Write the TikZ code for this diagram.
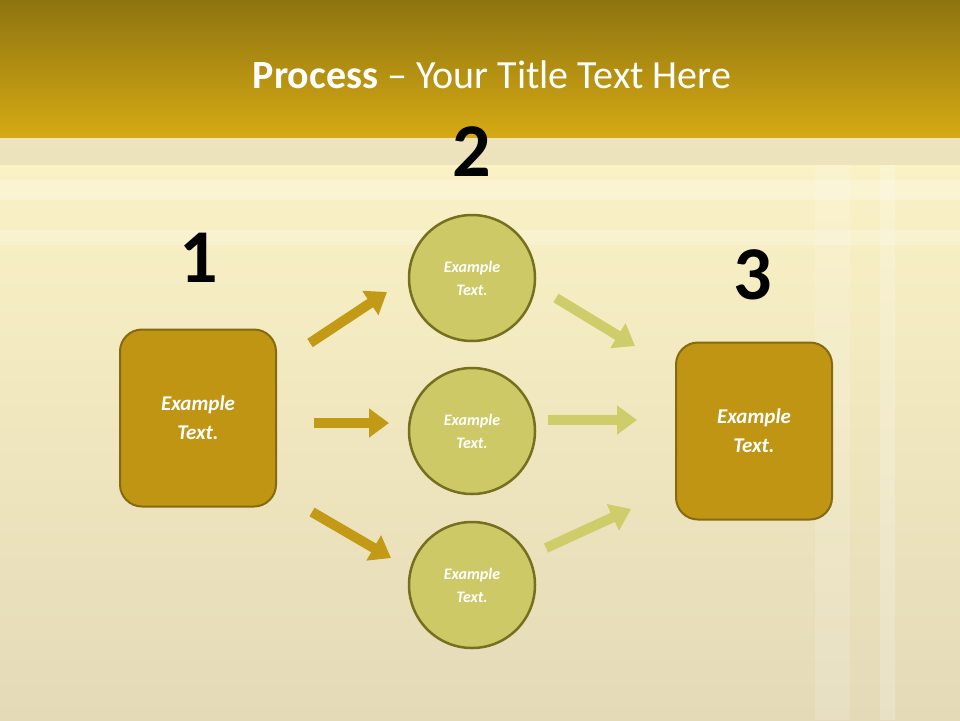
\documentclass[tikz,border=0pt]{standalone}
\usepackage{fontspec}
\setmainfont{Carlito}
\usetikzlibrary{arrows.meta}
\definecolor{hdtop}{HTML}{8E7410}
\definecolor{hdbot}{HTML}{D6AA14}
\definecolor{boxfill}{HTML}{BF9513}
\definecolor{boxline}{HTML}{846A10}
\definecolor{circfill}{HTML}{CCC966}
\definecolor{circline}{HTML}{76701E}
\definecolor{darkarrow}{HTML}{C39A15}
\definecolor{lightarrow}{HTML}{CFCC6A}
\definecolor{bgA}{HTML}{FBF3C6}
\definecolor{bgB}{HTML}{E4DAB8}
\begin{document}
\begin{tikzpicture}[x=1pt,y=-1pt,
  sq/.style={draw=boxline,line width=2pt,fill=boxfill,rounded corners=22pt,minimum width=156pt,minimum height=177pt,text=white,font=\fontsize{21}{29}\selectfont\bfseries\itshape,align=center},
  circ/.style={circle,draw=circline,line width=2.5pt,fill=circfill,minimum size=126pt,text=white,font=\fontsize{16}{23}\selectfont\bfseries\itshape,align=center},
  num/.style={font=\fontsize{76}{80}\selectfont\bfseries},
  darr/.style={draw=darkarrow,line width=10pt,-{Triangle[length=20pt,width=28pt]}},
  larr/.style={draw=lightarrow,line width=10pt,-{Triangle[length=20pt,width=28pt]}}]
\useasboundingbox (0,0) rectangle (960,720);
\shade[top color=bgA,bottom color=bgB] (0,137) rectangle (960,720);
\fill[white,opacity=0.25] (0,180) rectangle (960,200);
\fill[white,opacity=0.2] (0,230) rectangle (960,245);
\fill[white,opacity=0.15] (815,165) rectangle (850,720);
\fill[white,opacity=0.2] (880,165) rectangle (895,720);
\fill[color=bgB,opacity=0.6] (0,137) rectangle (960,165);
\shade[top color=hdtop,bottom color=hdbot] (0,0) rectangle (960,137);
\node[text=white,font=\fontsize{40}{44}\selectfont] (title) at (492,75) {\textbf{Process} -- Your Title Text Here};
\node[sq] (b1) at (198,418) {Example\\Text.};
\node[sq] (b3) at (754,431) {Example\\Text.};
\node[circ] (c1) at (472,278) {Example\\Text.};
\node[circ] (c2) at (472,431) {Example\\Text.};
\node[circ] (c3) at (472,585) {Example\\Text.};
\node[num] (n1) at (199,258) {1};
\node[num] (n2) at (472,152) {2};
\node[num] (n3) at (753,275) {3};
\coordinate (a1s) at (310,343); \coordinate (a1e) at (387,292);
\coordinate (a2s) at (314,423); \coordinate (a2e) at (389,423);
\coordinate (a3s) at (312,512); \coordinate (a3e) at (391,558);
\coordinate (a4s) at (556,298); \coordinate (a4e) at (635,346);
\coordinate (a5s) at (548,420); \coordinate (a5e) at (637,420);
\coordinate (a6s) at (546,548); \coordinate (a6e) at (631,509);
\draw[darr] (a1s) -- (a1e);
\draw[darr] (a2s) -- (a2e);
\draw[darr] (a3s) -- (a3e);
\draw[larr] (a4s) -- (a4e);
\draw[larr] (a5s) -- (a5e);
\draw[larr] (a6s) -- (a6e);
\end{tikzpicture}
\end{document}
